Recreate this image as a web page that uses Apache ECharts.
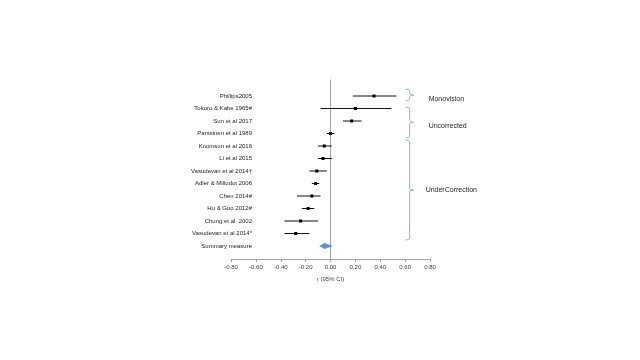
<!DOCTYPE html>
<html>
<head>
<meta charset="utf-8">
<script src="https://cdn.jsdelivr.net/npm/echarts@6/dist/echarts.min.js"></script>
<style>html,body{margin:0;padding:0;background:#fff}#c{width:640px;height:360px}</style>
</head>
<body>
<div id="c"></div>
<script>
const studies = ['Phillips2005', 'Tokoro & Kabe 1965#', 'Sun et al 2017', 'Parssinen et al 1989',
  'Koomson et al 2016', 'Li et al 2015', 'Vasudevan et al 2014\u2020', 'Adler & Millodot 2006',
  'Chen 2014#', 'Hu & Guo 2012#', 'Chung et al  2002', 'Vasudevan et al 2014*', 'Summary measure'];
const estimate = [0.35, 0.20, 0.17, 0.00, -0.05, -0.06, -0.11, -0.12, -0.15, -0.18, -0.24, -0.28, -0.05];
const lower    = [0.18, -0.08, 0.10, -0.03, -0.10, -0.10, -0.17, -0.15, -0.27, -0.23, -0.37, -0.37, -0.09];
const upper    = [0.53, 0.49, 0.25, 0.03, 0.01, 0.01, -0.03, -0.09, -0.08, -0.13, -0.10, -0.17, 0.02];
const xTicks = [-0.8, -0.6, -0.4, -0.2, 0, 0.2, 0.4, 0.6, 0.8];
const groupNames = ['Monovision', 'Uncorrected', 'UnderCorrection'];
const groupFirst = [0, 1, 4];
const groupLast = [0, 3, 11];

// layout (style) constants
const braceTopPad = [0.55, 0.12, 0.48];
const bracePadBottom = [0.4, 0.36, 0.52];
const braceColor = '#8fb0d8';
const FONT = 'Liberation Sans';

const chart = echarts.init(document.getElementById('c'), null, {renderer: 'canvas'});

const rowData = studies.map((s, i) => [i, lower[i], upper[i], estimate[i]]);
const labelData = studies.map((s, i) => [i, s]);
const braceData = groupNames.map((g, k) => [groupFirst[k] - braceTopPad[k], groupLast[k] + bracePadBottom[k], g]);

chart.setOption({
  animation: false,
  grid: {left: 231, right: 210, top: 80, height: 179},
  xAxis: {
    type: 'value', min: -0.8, max: 0.8, interval: 0.2,
    axisLine: {onZero: false, lineStyle: {color: '#a6a6a6'}},
    axisTick: {show: true, length: 3, lineStyle: {color: '#a6a6a6'}},
    splitLine: {show: false},
    axisLabel: {fontFamily: FONT, fontSize: 6, color: '#404040', margin: 5,
      formatter: v => v.toFixed(2)},
    name: '{i|r} (95% CI)', nameLocation: 'middle', nameGap: 17,
    nameTextStyle: {fontFamily: FONT, fontSize: 6, color: '#404040',
      rich: {i: {fontStyle: 'italic', fontFamily: FONT, fontSize: 6, color: '#404040'}}}
  },
  yAxis: {
    type: 'value', min: -1.28, max: 13.04, inverse: true,
    axisLine: {show: true, onZero: true, lineStyle: {color: '#a0a0a0'}},
    axisTick: {show: false}, axisLabel: {show: false}, splitLine: {show: false}
  },
  series: [
    {
      type: 'custom', data: rowData, clip: false,
      renderItem: (params, api) => {
        const i = api.value(0);
        const lo = api.coord([api.value(1), i]);
        const hi = api.coord([api.value(2), i]);
        const pt = api.coord([api.value(3), i]);
        if (i === studies.length - 1) {
          return {type: 'polygon', shape: {points: [lo, [pt[0], pt[1] - 3], hi, [pt[0], pt[1] + 3]]},
            style: {fill: '#5b93cf'}};
        }
        return {type: 'group', children: [
          {type: 'line', shape: {x1: lo[0], y1: lo[1], x2: hi[0], y2: hi[1]}, style: {stroke: '#111', lineWidth: 1}},
          {type: 'rect', shape: {x: pt[0] - 1.5, y: pt[1] - 1.5, width: 3, height: 3}, style: {fill: '#000'}}
        ]};
      }
    },
    {
      type: 'custom', data: labelData, clip: false, silent: true,
      renderItem: (params, api) => {
        const i = api.value(0);
        const p = api.coord([-0.8, i]);
        return {type: 'text', style: {text: studies[i], x: p[0] + 21, y: p[1], align: 'right', verticalAlign: 'middle',
          font: '6px "' + FONT + '"', fill: '#262626'}};
      }
    },
    {
      type: 'custom', data: braceData, clip: false, silent: true,
      renderItem: (params, api) => {
        const k = params.dataIndex;
        const top = api.coord([0.6, api.value(0)]);
        const bot = api.coord([0.6, api.value(1)]);
        const x0 = top[0] + 0.5, x1 = x0 + 4, x2 = x1 + 4;
        const y0 = top[1], y1 = bot[1], ym = (y0 + y1) / 2, r = 2;
        const path = `M${x0} ${y0} Q${x1} ${y0} ${x1} ${y0 + r} L${x1} ${ym - r} Q${x1} ${ym} ${x2} ${ym} Q${x1} ${ym} ${x1} ${ym + r} L${x1} ${y1 - r} Q${x1} ${y1} ${x0} ${y1}`;
        return {type: 'group', children: [
          {type: 'path', shape: {pathData: path}, style: {stroke: braceColor, fill: null, lineWidth: 1}},
          {type: 'text', style: {text: groupNames[k], x: x0 + (k === 2 ? 20 : 23), y: ym + (k === 2 ? 0 : 3.5),
            verticalAlign: 'middle', font: '7px "' + FONT + '"', fill: '#262626'}}
        ]};
      }
    }
  ]
});
</script>
</body>
</html>
